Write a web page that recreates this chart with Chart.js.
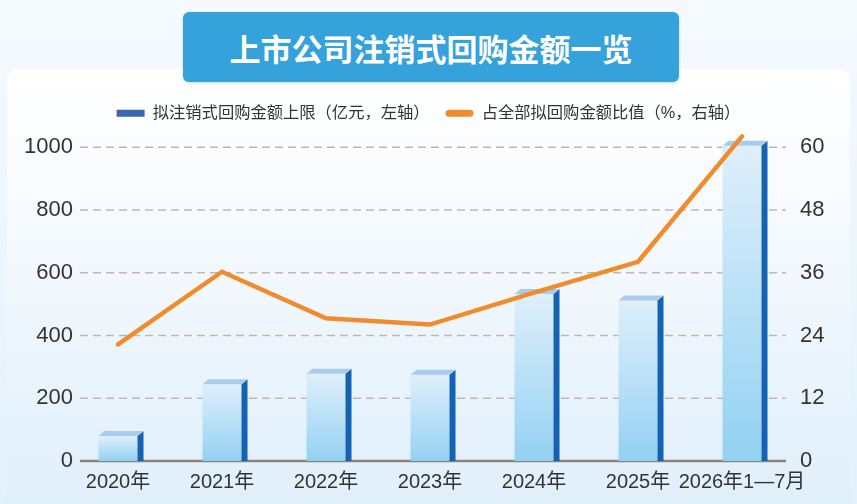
<!DOCTYPE html>
<html>
<head>
<meta charset="utf-8">
<title>上市公司注销式回购金额一览</title>
<script src="https://cdn.jsdelivr.net/npm/chart.js@4.4.0/dist/chart.umd.min.js"></script>
<style>
  html, body { margin: 0; padding: 0; }
  body {
    width: 857px; height: 504px; overflow: hidden; position: relative;
    background: linear-gradient(#f5fafe, #e3f1fb);
  }
  .card {
    position: absolute; left: 7px; top: 69px; width: 843px; height: 460px;
    border-radius: 12px;
    background: linear-gradient(#ffffff 0%, #f4f9fe 40%, #ddeefa 100%);
  }
  .title {
    position: absolute; left: 183px; top: 12px; width: 496px; height: 70px;
    border-radius: 6px; background: #36a2dc;
    box-shadow: 0 1px 3px rgba(0, 60, 110, 0.2);
    color: #fff; font: bold 31px 'Noto Sans CJK SC', sans-serif;
    display: flex; align-items: center; justify-content: center;
  }
  .chart-box { position: absolute; left: 0; top: 0; width: 857px; height: 504px; }
</style>
</head>
<body>
<div class="card"></div>
<div class="title">上市公司注销式回购金额一览</div>
<div class="chart-box"><canvas id="chart"></canvas></div>
<script>
// data
const categories = ['2020年', '2021年', '2022年', '2023年', '2024年', '2025年', '2026年1—7月'];
const cancelAmount = [80, 245, 278, 275, 532, 512, 1005];     // 亿元, left axis
const cancelShare = [22.3, 36.2, 27.3, 26.1, 32.2, 38.1, 62.1]; // %, right axis
const leftTicks = [0, 200, 400, 600, 800, 1000];
const rightTicks = [0, 12, 24, 36, 48, 60];

const FONT = "'Liberation Sans', 'Noto Sans CJK SC', sans-serif";
const TEXT = '#333333';
const colors = {
  barLegend: '#3a66b4',
  barTop: '#dfeffb',
  barBottom: '#93d1f2',
  barSide: '#1462b3',
  barCap: '#a8cbee',
  line: '#f08c2c',
  grid: '#c2b6b0',
  axis: '#8c837f'
};

Chart.defaults.font.family = FONT;

// extra room under the legend
const legendMargin = {
  id: 'legendMargin',
  beforeInit(chart) {
    const fit = chart.legend.fit;
    chart.legend.fit = function () {
      fit.bind(chart.legend)();
      this.height += 16;
    };
  }
};

// dashed grid drawn a little inset from the plot area
const gridLines = {
  id: 'gridLines',
  beforeDatasetsDraw(chart) {
    const { ctx, chartArea, scales } = chart;
    const x0 = chartArea.left + 14;
    const x1 = chartArea.right - 8;
    ctx.save();
    leftTicks.forEach(v => {
      const y = scales.y.getPixelForValue(v);
      ctx.beginPath();
      if (v === 0) {
        ctx.setLineDash([]);
        ctx.strokeStyle = colors.axis;
        ctx.lineWidth = 2.5;
      } else {
        ctx.setLineDash([8, 5]);
        ctx.strokeStyle = colors.grid;
        ctx.lineWidth = 1.5;
      }
      ctx.moveTo(x0, y);
      ctx.lineTo(x1, y);
      ctx.stroke();
    });
    ctx.restore();
  }
};

// 3D look for the bars: gradient front, dark side, light cap
const bar3d = {
  id: 'bar3d',
  afterDatasetDraw(chart, args) {
    if (args.index !== 0) return;
    const ctx = chart.ctx;
    const d = 6, dy = 5;
    ctx.save();
    args.meta.data.forEach(bar => {
      const { x, y, base, width } = bar.getProps(['x', 'y', 'base', 'width'], true);
      const l = x - width / 2;
      const r = x + width / 2;

      const grad = ctx.createLinearGradient(0, y, 0, base);
      grad.addColorStop(0, colors.barTop);
      grad.addColorStop(1, colors.barBottom);
      ctx.fillStyle = grad;
      ctx.fillRect(l, y, width, base - y);

      ctx.fillStyle = colors.barSide;
      ctx.beginPath();
      ctx.moveTo(r, y);
      ctx.lineTo(r + d, y - dy);
      ctx.lineTo(r + d, base);
      ctx.lineTo(r, base);
      ctx.closePath();
      ctx.fill();

      ctx.fillStyle = colors.barCap;
      ctx.beginPath();
      ctx.moveTo(l, y);
      ctx.lineTo(l + d, y - dy);
      ctx.lineTo(r + d, y - dy);
      ctx.lineTo(r, y);
      ctx.closePath();
      ctx.fill();
    });
    ctx.restore();
  }
};

// y tick labels sit slightly inside the plot area, so don't clip them to the axis box
function fixAxis(width) {
  return scale => {
    scale.width = width;
    scale._computeLabelArea = () => null;
  };
}

new Chart(document.getElementById('chart'), {
  type: 'bar',
  data: {
    labels: categories,
    datasets: [
      {
        type: 'bar',
        label: '拟注销式回购金额上限（亿元，左轴）',
        data: cancelAmount,
        yAxisID: 'y',
        backgroundColor: 'rgba(0,0,0,0)',
        barPercentage: 0.375,
        categoryPercentage: 1,
        order: 2
      },
      {
        type: 'line',
        label: '占全部拟回购金额比值（%，右轴）',
        data: cancelShare,
        yAxisID: 'y1',
        borderColor: colors.line,
        borderWidth: 4.5,
        borderCapStyle: 'round',
        pointRadius: 0,
        tension: 0,
        clip: false,
        order: 1
      }
    ]
  },
  options: {
    responsive: true,
    maintainAspectRatio: false,
    animation: false,
    layout: { padding: { top: 89, left: 0, right: 0, bottom: 0 } },
    plugins: {
      tooltip: { enabled: false },
      legend: {
        display: true,
        position: 'top',
        labels: {
          boxWidth: 28,
          boxHeight: 7,
          padding: 16,
          color: TEXT,
          useBorderRadius: true,
          font: { family: FONT, size: 16.3 },
          generateLabels(chart) {
            return chart.data.datasets.map((ds, i) => ({
              text: ds.label,
              fillStyle: i === 0 ? colors.barLegend : colors.line,
              strokeStyle: 'rgba(0,0,0,0)',
              lineWidth: 0,
              borderRadius: i === 0 ? 0 : 3.5,
              fontColor: TEXT,
              datasetIndex: i
            }));
          }
        }
      }
    },
    scales: {
      x: {
        type: 'category',
        offset: true,
        grid: { display: false, drawTicks: false },
        border: { display: false },
        ticks: {
          color: TEXT,
          padding: 9,
          maxRotation: 0,
          autoSkip: false,
          font: { family: FONT, size: 20 }
        },
        afterFit(scale) { scale.height = 43; }
      },
      y: {
        position: 'left',
        min: 0,
        max: 1000,
        grid: { display: false, drawTicks: false },
        border: { display: false },
        ticks: {
          color: TEXT,
          padding: -7,
          font: { family: FONT, size: 22 },
          callback: v => String(v)
        },
        afterBuildTicks(scale) { scale.ticks = leftTicks.map(v => ({ value: v })); },
        afterFit: fixAxis(66)
      },
      y1: {
        position: 'right',
        min: 0,
        max: 60,
        grid: { display: false, drawTicks: false },
        border: { display: false },
        ticks: {
          color: TEXT,
          padding: 6,
          font: { family: FONT, size: 22 },
          callback: v => String(v)
        },
        afterBuildTicks(scale) { scale.ticks = rightTicks.map(v => ({ value: v })); },
        afterFit: fixAxis(63)
      }
    }
  },
  plugins: [legendMargin, gridLines, bar3d]
});
</script>
</body>
</html>
